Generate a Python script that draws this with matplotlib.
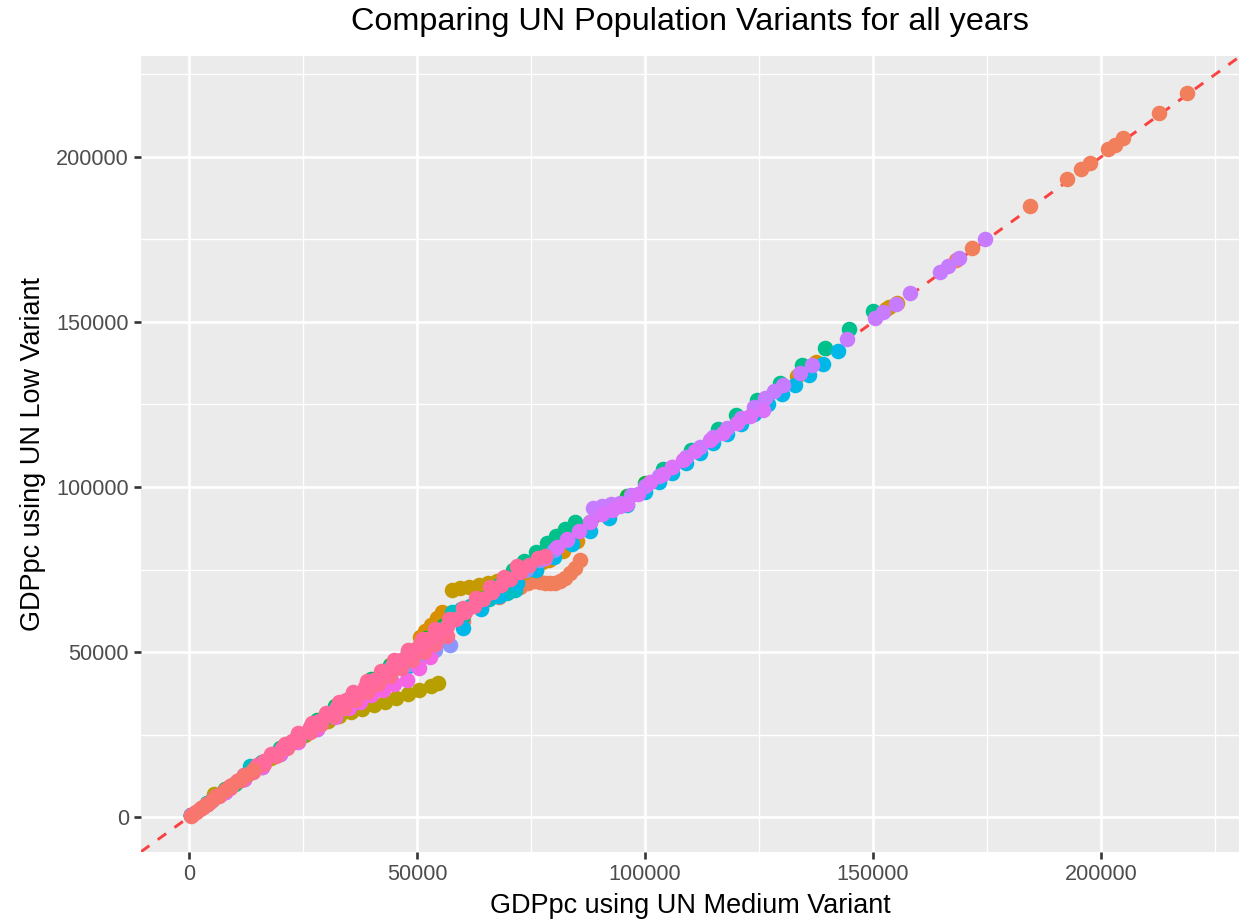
import matplotlib
matplotlib.use("Agg")
import matplotlib.pyplot as plt
from matplotlib.ticker import FixedLocator

plt.rcParams['font.family'] = ['Liberation Sans', 'DejaVu Sans']
plt.rcParams['lines.scale_dashes'] = False

# ---------------- data (GDPpc medium variant -> GDPpc low variant) ----------------
salmon_med = [60000, 64000, 68000, 70500, 72600, 74300, 75900, 77000, 78000, 79200, 80300, 81400, 82500, 83600, 84600, 85700,
              168200, 171700, 184400, 192500, 195600, 197600, 201500, 203100, 204800, 212700, 218900]
salmon_low = [59500, 63300, 66800, 68600, 69700, 70800, 71600, 71200, 70900, 70800, 70900, 71500, 72400, 73800, 75400, 77900,
              168800, 172400, 185100, 193300, 196400, 198200, 202400, 203700, 205700, 213300, 219400]

olive_med = [500, 3000, 5500, 8000, 10500, 13000, 15500, 18000, 20500, 23000, 25500, 28000, 30500, 33000, 35500, 38000,
             40500, 43000, 45500, 48000, 50500, 53000, 54500]
olive_low = [500, 3000, 6900, 8300, 10600, 13000, 15400, 17900, 20300, 22700, 25000, 27200, 29200, 30600, 31800, 32800,
             33900, 35000, 36000, 37200, 38500, 39700, 40600]

gold_med = [500, 4000, 8000, 12000, 16000, 20000, 24000, 28000, 32000, 36000, 40000, 44000, 48000, 52000, 55000,
            57700, 59500, 61500, 63500, 65500, 67500, 69500, 71500, 73200, 74800, 77500, 80000, 153500]
gold_low = [500, 4050, 8100, 12000, 16100, 20000, 24100, 28000, 32000, 36000, 40100, 44000, 48000, 52000, 55100,
            68800, 69300, 69800, 70400, 71000, 71500, 72200, 73000, 73800, 74800, 77200, 79600, 154500]

orange_med = [500, 4000, 8000, 12000, 16000, 20000, 24000, 28000, 32000, 36000, 40000, 44000, 48000, 49300, 50600, 51800,
              53000, 54300, 55500, 76000, 79000, 82000, 85000, 133300, 137500, 152800, 155300]
orange_low = [500, 4000, 7900, 12000, 15900, 19800, 23800, 27700, 31700, 35600, 39600, 43500, 47500, 50500, 54500, 56400,
              58300, 60200, 62100, 75000, 77800, 80700, 83700, 133500, 138000, 154000, 155700]

green_med = [500, 4000, 8000, 12000, 16000, 20000, 24000, 28000, 32000, 36000, 40000, 44000, 48000, 52000, 56000, 60000,
             64000, 68000, 72000, 76000, 80000, 84000, 88000, 92000, 96000, 100000]
green_low = [525, 4200, 8400, 12600, 16800, 21000, 25200, 29400, 33600, 37700, 41900, 46000, 50100, 54200, 58200, 62200,
             66000, 69900, 73700, 77600, 81500, 85400, 89500, 93400, 97300, 101100]

sea_med = [500, 5000, 10000, 15000, 20000, 25000, 30000, 35000, 40000, 45000, 50000, 55000, 60000, 65000, 68000, 71000,
           73500, 76000, 78500, 80500, 82500, 84600, 104000, 110000, 116000, 120000, 124500, 129600, 134400, 139500,
           144700, 150000]
sea_low = [500, 5050, 10100, 15200, 20200, 25300, 30400, 35400, 40500, 45600, 50700, 55800, 61000, 66500, 70300, 74800,
           77600, 80300, 83000, 85200, 87300, 89400, 105500, 111300, 117500, 121800, 126300, 131500, 137000, 142100,
           147900, 153400]

teal_med = [500, 4000, 8000, 12000, 13400, 16000, 20000, 24000, 28000, 32000, 36000, 40000, 44000, 48000, 52000, 55000,
            57700, 59700, 61700, 63700, 65700, 67700, 69700, 71500]
teal_low = [500, 4140, 8280, 12400, 15600, 16550, 20700, 24800, 29000, 33100, 37200, 41400, 45500, 49600, 53700, 57000,
            62100, 63000, 64000, 65000, 66000, 67000, 68000, 68800]

cyan_med = [500, 4000, 8000, 12000, 16000, 20000, 24000, 28000, 32000, 36000, 40000, 44000, 48000, 52000, 56000, 60000,
            64000, 68000, 72000, 76000, 80000, 84000, 88000, 92000, 96000, 100000, 103000, 106000, 109000, 112000,
            115000, 118000, 121000, 124000, 127000, 130000, 133000, 136000, 139000, 142300]
cyan_low = [478, 3820, 7640, 11460, 15280, 19100, 22900, 26700, 30600, 34400, 38200, 42000, 45800, 49700, 53500, 57300,
            63000, 67000, 70900, 74900, 78800, 82700, 86700, 90600, 94500, 98500, 101400, 104300, 107300, 110300,
            113200, 116200, 119200, 122100, 125100, 128100, 131000, 134000, 137300, 141300]

blue_med = [500, 4000, 8000, 12000, 16000, 20000, 24000, 28000, 32000, 36000, 40000, 44000, 48000, 51000, 54000, 57200,
            74000, 77000, 80000, 83000]
blue_low = [483, 3860, 7720, 11580, 15440, 19300, 23200, 27000, 30900, 34700, 38600, 42500, 46300, 48800, 50700, 52100,
            74800, 78000, 81000, 84000]

violet_med = [88500, 90500, 92500, 94500, 97000, 100000, 103000, 106000, 109000, 112000, 115000, 118000, 121000, 124000,
              126300, 128300, 130300, 134000, 136600, 144300, 150400, 152200, 155000, 158100, 164700, 166400, 168900,
              174500]
violet_low = [93600, 94200, 94800, 95300, 97500, 100300, 103200, 106200, 109000, 112100, 115100, 118000, 121000, 124100,
              127000, 129000, 130900, 134500, 137000, 144800, 151200, 153000, 155600, 158700, 165100, 166900, 169400,
              175100]

magenta_med = [78000, 80700, 83000, 85500, 88000, 90500, 92800, 94500, 96000, 98500, 101100, 104000, 106000, 108300,
               111000, 114300, 117000, 120200, 123000, 125900]
magenta_low = [78500, 81800, 84200, 86800, 89500, 91800, 93000, 94200, 94800, 98000, 101500, 104000, 106000, 108200,
               111000, 114200, 116500, 119400, 121500, 123300]

orchid_med = [500, 4000, 8000, 12000, 16000, 20000, 24000, 28000, 32000, 35000, 37500, 40000, 42500, 45000, 47800,
              50500, 52800]
orchid_low = [480, 3800, 7600, 11400, 15200, 19000, 22800, 26600, 30400, 33000, 35000, 36900, 38600, 40200, 41600,
              45200, 48500]

rose_med = [1500, 4000, 6500, 9000, 11500, 14000, 16500, 19000, 21500, 24000, 26500, 29000, 31500, 34000, 36500, 39000,
            41500, 44000, 46500, 49000, 51500, 54000, 56500]
rose_low = [1455, 3880, 6305, 8730, 11155, 13580, 16005, 18430, 20855, 23280, 25705, 28130, 30555, 32980, 35405, 37830,
            40255, 42680, 45105, 47530, 49955, 52380, 54805]

pinkhi_med = [3000, 6000, 9000, 12000, 15000, 18000, 21000, 24000, 27000, 30000, 33000, 36000, 39000, 42000, 45000,
              48000, 51000, 54000, 57000, 60000, 63000, 66000, 69000, 72000]
pinkhi_low = [3165, 6330, 9495, 12660, 15825, 18990, 22155, 25320, 28485, 31650, 34815, 37980, 41145, 44310, 47475,
              50640, 53805, 56970, 60135, 63300, 66465, 69630, 72795, 75960]

pink_med = [600, 2500, 4500, 6500, 8500, 10500, 12500, 14500, 16500, 18500, 20500, 22500, 24500, 26500, 28500, 30500,
            32500, 34500, 36500, 38500, 40500, 42500, 44500, 46500, 48500, 50500, 52500, 54500, 56500, 58500, 60500,
            62500, 64500, 66500, 68500, 70500, 72500, 74500, 76500, 78000]
pink_low = [615, 2560, 4610, 6660, 8710, 10760, 12810, 14860, 16910, 18960, 21010, 23060, 25110, 27160, 29210, 31260,
            33310, 35360, 37410, 39460, 41510, 43560, 45610, 47660, 49710, 51760, 53810, 55860, 57910, 59960, 62010,
            64060, 66110, 68160, 70210, 72260, 74310, 76360, 78400, 79000]

coral_med = [400, 1500, 2700, 4000, 5300, 6600, 8000, 9500, 11000, 12500, 14000]
coral_low = [400, 1520, 2750, 4080, 5400, 6750, 8150, 9700, 11200, 12750, 14300]

series = [
    (salmon_med, salmon_low, '#F17F5B'),
    (olive_med, olive_low, '#B79F00'),
    (gold_med, gold_low, '#C49A00'),
    (orange_med, orange_low, '#D89000'),
    (green_med, green_low, '#00BA38'),
    (sea_med, sea_low, '#00C08B'),
    (teal_med, teal_low, '#00BFC4'),
    (cyan_med, cyan_low, '#00B8E7'),
    (blue_med, blue_low, '#8B96FF'),
    (violet_med, violet_low, '#C77CFF'),
    (magenta_med, magenta_low, '#DC71FA'),
    (orchid_med, orchid_low, '#F564E3'),
    (rose_med, rose_low, '#FF6C91'),
    (pinkhi_med, pinkhi_low, '#FF6A98'),
    (pink_med, pink_low, '#FF699C'),
    (coral_med, coral_low, '#F8766D'),
]

x_breaks = [0, 50000, 100000, 150000, 200000]
y_breaks = [0, 50000, 100000, 150000, 200000]
minor_breaks = [25000, 75000, 125000, 175000, 225000]
x_limits = (-10526, 230263)
y_limits = (-10606, 230606)

# ---------------- figure ----------------
W, H, DPI = 1239, 924, 177
fig = plt.figure(figsize=(W / DPI, H / DPI), dpi=DPI)
L, R, T, B = 141, 1239, 56, 852
ax = fig.add_axes([L / W, 1 - B / H, (R - L) / W, (B - T) / H])
ax.set_facecolor('#EBEBEB')
for sp in ax.spines.values():
    sp.set_visible(False)

ax.set_xlim(*x_limits)
ax.set_ylim(*y_limits)
ax.xaxis.set_major_locator(FixedLocator(x_breaks))
ax.yaxis.set_major_locator(FixedLocator(y_breaks))
ax.xaxis.set_minor_locator(FixedLocator(minor_breaks))
ax.yaxis.set_minor_locator(FixedLocator(minor_breaks))
ax.set_xticklabels([str(v) for v in x_breaks])
ax.set_yticklabels([str(v) for v in y_breaks])
ax.grid(which='major', color='white', linewidth=1.07)
ax.grid(which='minor', color='white', linewidth=0.53)
ax.set_axisbelow(True)
ax.tick_params(which='major', length=2.75, width=1.07, color='#333333',
               labelcolor='#4D4D4D', labelsize=8.8, pad=2.2)
ax.tick_params(which='minor', length=0)

ax.axline((0, 0), slope=1, color='red', alpha=0.72, linewidth=1.2,
          linestyle=(0, (4.2, 4.2)), zorder=1)

for xs, ys, col in series:
    ax.scatter(xs, ys, s=40, color=col, linewidths=0, zorder=2)

ax.set_xlabel('GDPpc using UN Medium Variant', fontsize=11, color='black', labelpad=3)
ax.set_ylabel('GDPpc using UN Low Variant', fontsize=11, color='black', labelpad=4)
fig.text((L + R) / 2 / W, 1 - 22 / H, 'Comparing UN Population Variants for all years',
         ha='center', va='center', fontsize=13.2, color='black')

fig.savefig('out.png', dpi=DPI)
